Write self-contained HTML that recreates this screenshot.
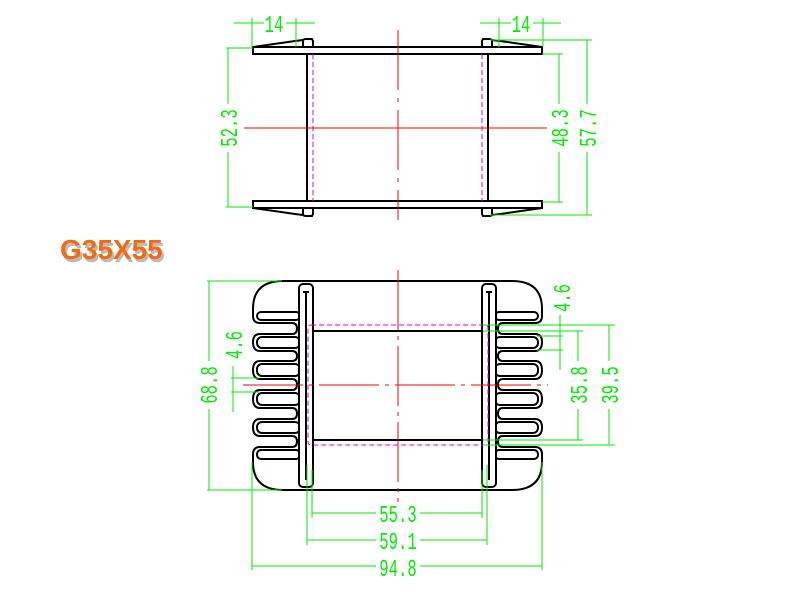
<!DOCTYPE html>
<html><head><meta charset="utf-8"><style>
html,body{margin:0;padding:0;background:#fff;}
svg{display:block}
.g{fill:#00ee00;font-family:"Liberation Mono",monospace;font-size:24px;}
</style></head><body>
<svg width="800" height="600" viewBox="0 0 800 600" xmlns="http://www.w3.org/2000/svg">
<g stroke="#000" stroke-width="2" fill="none">
<rect x="253" y="47" width="289" height="7"/>
<rect x="253" y="201" width="289" height="7"/>
<line x1="307" y1="54" x2="307" y2="201"/>
<line x1="488" y1="54" x2="488" y2="201"/>
<path d="M253,47 L295,41 L303,40 L303,47 M303,40 Q304,39 306,39 L312,39 L313,41 L313,47"/>
<path d="M542,47 L500,41 L492,40 L492,47 M492,40 Q491,39 489,39 L483,39 L482,41 L482,47"/>
<path d="M253,208 L295,214 L303,215 L303,208 M303,215 Q304,216 306,216 L312,216 L313,214 L313,208"/>
<path d="M542,208 L500,214 L492,215 L492,208 M492,215 Q491,216 489,216 L483,216 L482,214 L482,208"/>
</g>
<g stroke="#e000e0" stroke-width="1" stroke-dasharray="5,3">
<line x1="313" y1="54" x2="313" y2="201"/><line x1="482" y1="54" x2="482" y2="201"/>
</g>
<g stroke="#ff0000" stroke-width="1">
<line x1="244" y1="128" x2="547" y2="128"/>
<line x1="398" y1="30" x2="398" y2="220" stroke-dasharray="60,8,4,8"/>
</g>
<g stroke="#00ee00" stroke-width="1" fill="none">
<line x1="234" y1="23" x2="315" y2="23"/><line x1="252" y1="18" x2="252" y2="47"/><line x1="296" y1="18" x2="296" y2="47"/>
<line x1="480" y1="23" x2="561" y2="23"/><line x1="499" y1="18" x2="499" y2="47"/><line x1="543" y1="18" x2="543" y2="47"/>
<line x1="228" y1="48" x2="228" y2="207"/><line x1="226" y1="48" x2="253" y2="48"/><line x1="226" y1="207" x2="253" y2="207"/>
<line x1="559" y1="54" x2="559" y2="202"/><line x1="542" y1="54" x2="563" y2="54"/><line x1="542" y1="202" x2="563" y2="202"/>
<line x1="587" y1="40" x2="587" y2="215"/><line x1="490" y1="40" x2="592" y2="40"/><line x1="490" y1="215" x2="592" y2="215"/>
</g>
<rect x="264" y="12" width="22" height="22" fill="#fff"/><rect x="511" y="12" width="22" height="22" fill="#fff"/>
<text class="g" text-anchor="middle" transform="translate(274,32) scale(0.65,1)">14</text>
<text class="g" text-anchor="middle" transform="translate(521,32) scale(0.65,1)">14</text>
<rect x="218" y="104" width="22" height="48" fill="#fff"/>
<text class="g" text-anchor="middle" transform="translate(237,128) rotate(-90) scale(0.65,1)">52.3</text>
<rect x="548" y="104" width="22" height="48" fill="#fff"/>
<text class="g" text-anchor="middle" transform="translate(568,128) rotate(-90) scale(0.65,1)">48.3</text>
<rect x="576" y="104" width="22" height="48" fill="#fff"/>
<text class="g" text-anchor="middle" transform="translate(596,128) rotate(-90) scale(0.65,1)">57.7</text>
<text x="60" y="259" font-family="Liberation Sans,sans-serif" font-weight="bold" font-size="28" fill="#bbb" transform="translate(2,3)">G35X55</text>
<text x="60" y="259" font-family="Liberation Sans,sans-serif" font-weight="bold" font-size="28" fill="#f36a12">G35X55</text>
<g stroke="#000" stroke-width="2" fill="none">
<line x1="283" y1="281" x2="512" y2="281"/><line x1="283" y1="490" x2="512" y2="490"/>
<g id="half">
<path d="M283,281 Q253,281 253,309 L253,316 Q253,323 260,323 L292,323 Q297,323 297,328.5 Q297,334 292,334 L260,334 Q253,334 253,342 Q253,351 260,351 L292,351 Q297,351 297,356 Q297,361 292,361 L260,361 Q253,361 253,370 Q253,379 260,379 L292,379 Q297,379 297,384.5 Q297,390 292,390 L260,390 Q253,390 253,399 Q253,408 260,408 L292,408 Q297,408 297,413.5 Q297,419 292,419 L260,419 Q253,419 253,427.5 Q253,436 260,436 L292,436 Q297,436 297,441.5 Q297,447 292,447 L260,447 Q253,447 253,454.5 L253,462 Q253,490 283,490"/>
<rect x="257" y="312" width="43" height="8" rx="4"/>
<rect x="257" y="337" width="43" height="11" rx="5"/>
<rect x="257" y="364" width="43" height="12" rx="5"/>
<rect x="257" y="393" width="43" height="12" rx="5"/>
<rect x="257" y="422" width="43" height="11" rx="5"/>
<rect x="257" y="450" width="43" height="9" rx="4"/>
<rect x="299" y="284" width="14" height="203" rx="4" fill="#fff"/>
<path d="M303,292 L309,292 M306,292 L306,480"/>
</g>
<use href="#half" transform="translate(795,0) scale(-1,1)"/>
<line x1="313" y1="331" x2="482" y2="331"/><line x1="313" y1="440" x2="482" y2="440"/>
</g>
<rect x="308" y="325" width="180" height="120" rx="3" fill="none" stroke="#e000e0" stroke-width="1" stroke-dasharray="5,3"/>
<g stroke="#ff0000" stroke-width="1">
<line x1="243" y1="385" x2="548" y2="385" stroke-dasharray="60,6,4,6"/>
<line x1="398" y1="270" x2="398" y2="505" stroke-dasharray="60,6,4,6"/>
</g>
<g stroke="#00ee00" stroke-width="1" fill="none">
<line x1="209" y1="281" x2="209" y2="490"/><line x1="207" y1="281" x2="282" y2="281"/><line x1="207" y1="490" x2="282" y2="490"/>
<line x1="233" y1="366" x2="233" y2="412"/><line x1="231" y1="378" x2="259" y2="378"/><line x1="231" y1="392" x2="259" y2="392"/>
<line x1="560" y1="290" x2="560" y2="370"/><line x1="483" y1="325" x2="615" y2="325"/><line x1="483" y1="331" x2="583" y2="331"/><line x1="537" y1="336" x2="563" y2="336"/><line x1="537" y1="350" x2="563" y2="350"/>
<line x1="578" y1="331" x2="578" y2="440"/><line x1="483" y1="440" x2="583" y2="440"/>
<line x1="609" y1="325" x2="609" y2="445"/><line x1="483" y1="445" x2="615" y2="445"/>
<line x1="312" y1="470" x2="312" y2="518"/><line x1="482" y1="470" x2="482" y2="518"/><line x1="312" y1="513" x2="482" y2="513"/>
<line x1="307" y1="465" x2="307" y2="545"/><line x1="487" y1="465" x2="487" y2="545"/><line x1="307" y1="540" x2="487" y2="540"/>
<line x1="252" y1="462" x2="252" y2="570"/><line x1="542" y1="462" x2="542" y2="570"/><line x1="252" y1="566" x2="542" y2="566"/>
</g>
<rect x="376" y="502" width="44" height="22" fill="#fff"/><rect x="376" y="529" width="44" height="22" fill="#fff"/><rect x="376" y="555" width="44" height="22" fill="#fff"/>
<text class="g" text-anchor="middle" transform="translate(398,522) scale(0.65,1)">55.3</text>
<text class="g" text-anchor="middle" transform="translate(398,549) scale(0.65,1)">59.1</text>
<text class="g" text-anchor="middle" transform="translate(398,576) scale(0.65,1)">94.8</text>
<rect x="198" y="361" width="22" height="48" fill="#fff"/>
<text class="g" text-anchor="middle" transform="translate(217,385) rotate(-90) scale(0.65,1)">68.8</text>
<rect x="224" y="328" width="20" height="34" fill="#fff"/>
<text class="g" text-anchor="middle" transform="translate(242,345) rotate(-90) scale(0.65,1)">4.6</text>
<rect x="552" y="281" width="20" height="34" fill="#fff"/>
<text class="g" text-anchor="middle" transform="translate(570,298) rotate(-90) scale(0.65,1)">4.6</text>
<rect x="569" y="361" width="20" height="48" fill="#fff"/>
<text class="g" text-anchor="middle" transform="translate(587,385) rotate(-90) scale(0.65,1)">35.8</text>
<rect x="600" y="361" width="20" height="48" fill="#fff"/>
<text class="g" text-anchor="middle" transform="translate(618,385) rotate(-90) scale(0.65,1)">39.5</text>
</svg>
</body></html>
